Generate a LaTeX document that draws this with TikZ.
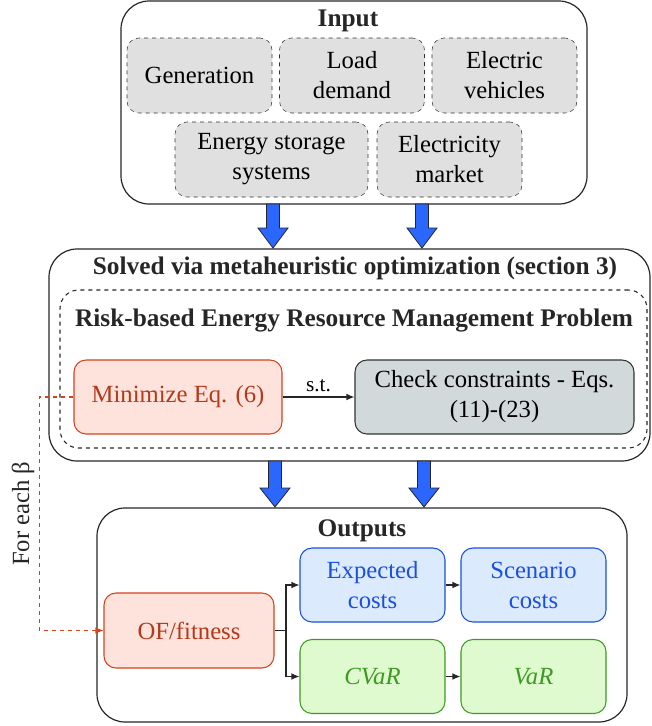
\documentclass[tikz,border=0pt]{standalone}
\usepackage{fontspec}
\setmainfont{Liberation Serif}
\usetikzlibrary{arrows.meta}
\definecolor{redfill}{HTML}{FDE3DB}
\definecolor{redline}{HTML}{D4421E}
\definecolor{bluefill}{HTML}{DCEAFD}
\definecolor{blueline}{HTML}{1A4FE0}
\definecolor{greenfill}{HTML}{E0FAD0}
\definecolor{greenline}{HTML}{3D9A22}
\definecolor{greyfill}{HTML}{D2D9DB}
\definecolor{infill}{HTML}{E0E0E0}
\definecolor{arrowblue}{HTML}{2B66FF}
\tikzset{
  box/.style={rounded corners=9pt, align=center, inner sep=2pt,
    font=\rmfamily\fontsize{18.5}{22.5}\selectfont},
  inbox/.style={box, draw=black!80, dashed, fill=infill,
    minimum width=108.75pt, minimum height=56.25pt},
  redbox/.style={box, draw=redline, fill=redfill, text=redline!85!black, line width=0.8pt},
  bluebox/.style={box, draw=blueline, fill=bluefill, text=blueline, line width=0.8pt,
    minimum width=108.75pt, minimum height=55.5pt},
  greenbox/.style={box, draw=greenline, fill=greenfill, text=greenline, line width=0.8pt,
    minimum width=108.75pt, minimum height=55.5pt},
  greybox/.style={box, draw=black!80, fill=greyfill, line width=0.8pt},
  group/.style={draw=black!85, rounded corners=21pt, line width=0.9pt},
  title/.style={font=\rmfamily\fontsize{19}{22}\selectfont\bfseries, text=black!85},
  bigarrow/.style={draw=black!85, fill=arrowblue, line width=0.6pt},
  link/.style={-{Latex[length=6pt,width=5pt]}, draw=black!85, line width=0.8pt},
}
\begin{document}
\begin{tikzpicture}[x=0.75pt, y=-0.75pt]
  \useasboundingbox (0,0) rectangle (651,726);

  % input
  \node[group, minimum width=349.5pt, minimum height=152.25pt] (input) at (354,102.5) {};
  \node[title] (intitle) at (348,21) {Input};
  \node[inbox] (gen) at (199.5,75.5) {Generation};
  \node[inbox] (load) at (352,75.5) {Load\\demand};
  \node[inbox] (ev) at (504.5,75.5) {Electric\\vehicles};
  \node[inbox, minimum width=144.75pt] (ess) at (271.5,159.5) {Energy storage\\systems};
  \node[inbox] (mkt) at (449.5,159.5) {Electricity\\market};

  % solver
  \node[group, minimum width=450.75pt, minimum height=159pt] (solver) at (349.5,355) {};
  \node[title] (soltitle) at (355,268) {Solved via metaheuristic optimization (section 3)};
  \node[draw=black!85, dashed, rounded corners=14pt, line width=0.8pt,
    minimum width=440.25pt, minimum height=118.5pt] (erm) at (353.5,369) {};
  \node[title] (ermtitle) at (354,320) {Risk-based Energy Resource Management Problem};
  \node[redbox, minimum width=156pt, minimum height=55.5pt] (min) at (178,397) {Minimize Eq. (6)};
  \node[greybox, minimum width=209.25pt, minimum height=55.5pt] (chk) at (494.5,397)
    {Check constraints - Eqs.\\(11)-(23)};

  % outputs
  \node[group, minimum width=397.5pt, minimum height=160.5pt] (outputs) at (362,615) {};
  \node[title] (outtitle) at (362,531) {Outputs};
  \node[redbox, minimum width=127.5pt, minimum height=56.25pt] (of) at (189,630.5) {OF/fitness};
  \node[bluebox] (exp) at (372.5,585) {Expected\\costs};
  \node[bluebox] (scn) at (533.5,585) {Scenario\\costs};
  \node[greenbox] (cvar) at (372.5,676.5) {\itshape CVaR};
  \node[greenbox] (var) at (533.5,676.5) {\itshape VaR};
  \coordinate (split) at (286,630.5);

  % big arrows
  \foreach \x in {273,422}
    \draw[bigarrow] (\x-6.5,204) -- (\x-6.5,228) -- (\x-15,228) -- (\x,248)
      -- (\x+15,228) -- (\x+6.5,228) -- (\x+6.5,204) -- cycle;
  \foreach \x in {275,424}
    \draw[bigarrow] (\x-6.5,461) -- (\x-6.5,488) -- (\x-15,488) -- (\x,507)
      -- (\x+15,488) -- (\x+6.5,488) -- (\x+6.5,461) -- cycle;

  % links
  \draw[link] (min) -- node[above, font=\rmfamily\fontsize{16}{18}\selectfont] {s.t.} (chk);
  \draw[black!85, line width=0.8pt] (of) -- (split);
  \draw[link] (split) |- (exp.west);
  \draw[link] (split) |- (cvar.west);
  \draw[link] (exp) -- (scn);
  \draw[link] (cvar) -- (var);
  \draw[link, draw=redline, dashed] (min.west) -- ++(-34,0)
    |- node[pos=0.25, rotate=90, above, text=black!85,
      font=\rmfamily\fontsize{18.5}{21}\selectfont] {For each β} (of.west);
\end{tikzpicture}
\end{document}
